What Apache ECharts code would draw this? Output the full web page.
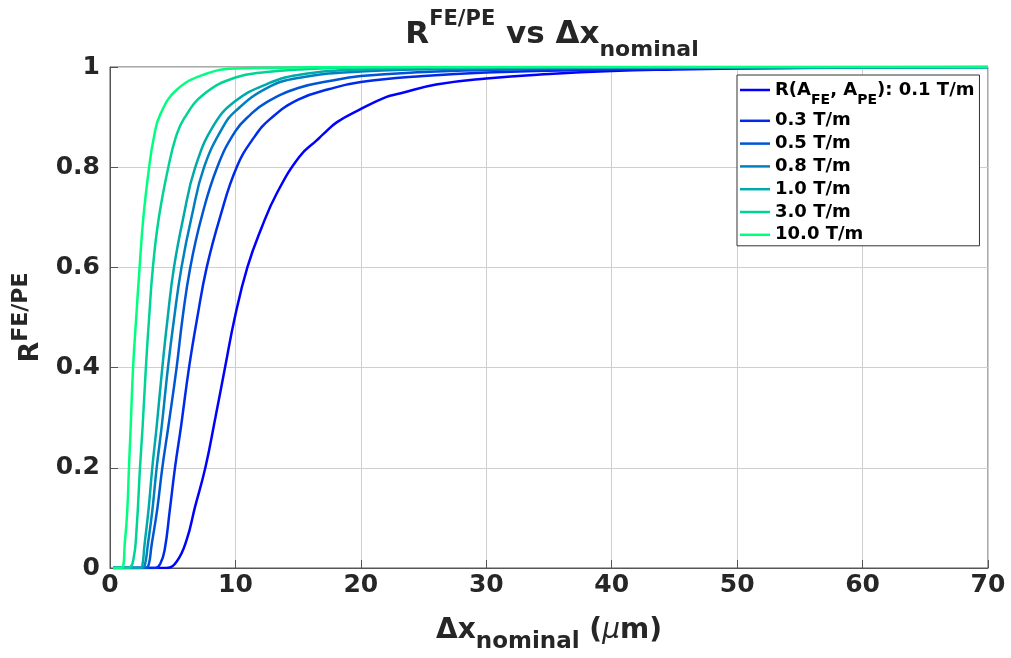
<!DOCTYPE html>
<html><head><meta charset="utf-8">
<script src="https://cdn.jsdelivr.net/npm/echarts@6/dist/echarts.min.js"></script>
<style>html,body{margin:0;padding:0;background:#fff}#c{width:1011px;height:658px}</style>
</head><body><div id="c"></div>
<script>
// ---- data ----
const seriesNames = ['R(A_FE, A_PE): 0.1 T/m', '0.3 T/m', '0.5 T/m', '0.8 T/m', '1.0 T/m', '3.0 T/m', '10.0 T/m'];
const seriesColors = ['#0000ff', '#002aea', '#0055d5', '#0080bf', '#00aaaa', '#00d495', '#00ff80'];
const xTicks = [0, 10, 20, 30, 40, 50, 60, 70];
const yTicks = [0, 0.2, 0.4, 0.6, 0.8, 1];

const x01 = [0.25, 4.5, 5.32, 6.11, 6.78, 7.6, 8.4, 9.17, 9.95, 10.95, 12.1, 13.3, 15.1, 16.5, 17.0, 18.1, 19.9, 22.0, 23.1, 26, 30, 35, 40, 45, 50, 60, 70];
const y01 = [0, 0, 0.013, 0.056, 0.122, 0.2, 0.3, 0.4, 0.5, 0.6, 0.68, 0.748, 0.821, 0.854, 0.866, 0.89, 0.915, 0.94, 0.947, 0.965, 0.977, 0.986, 0.992, 0.995, 0.997, 0.999, 1];

const x03 = [0.25, 3.6, 4.0, 4.35, 4.77, 5.18, 5.66, 6.3, 6.96, 7.71, 8.77, 10.1, 11.5, 12.8, 15, 17.5, 20, 25, 30, 40, 50, 60, 70];
const y03 = [0, 0, 0.008, 0.035, 0.116, 0.2, 0.282, 0.4, 0.5, 0.6, 0.7, 0.8, 0.86, 0.897, 0.935, 0.956, 0.97, 0.982, 0.989, 0.995, 0.998, 0.999, 1];

const x05 = [0.25, 2.85, 3.1, 3.3, 3.76, 4.17, 4.65, 5.31, 5.79, 6.4, 7.3, 8.55, 10, 11.2, 12.5, 15, 17.5, 20, 25, 30, 40, 50, 70];
const y05 = [0, 0, 0.008, 0.043, 0.116, 0.2, 0.282, 0.4, 0.5, 0.6, 0.7, 0.8, 0.872, 0.905, 0.93, 0.958, 0.972, 0.982, 0.99, 0.994, 0.998, 0.999, 1];

const x08 = [0.25, 2.6, 2.8, 3.0, 3.38, 3.72, 4.12, 4.62, 5.12, 5.7, 6.5, 7.5, 9.0, 10, 12.5, 15, 20, 30, 40, 50, 70];
const y08 = [0, 0, 0.008, 0.043, 0.116, 0.2, 0.282, 0.4, 0.5, 0.6, 0.7, 0.8, 0.88, 0.912, 0.958, 0.978, 0.991, 0.997, 0.999, 1, 1];

const x10 = [0.25, 2.45, 2.6, 2.74, 3.07, 3.37, 3.72, 4.17, 4.6, 5.1, 5.85, 6.8, 8.3, 10, 12.5, 15, 20, 30, 40, 70];
const y10 = [0, 0, 0.008, 0.043, 0.116, 0.2, 0.282, 0.4, 0.5, 0.6, 0.7, 0.8, 0.885, 0.932, 0.966, 0.984, 0.995, 0.999, 1, 1];

const x30 = [0.25, 1.45, 1.86, 2.13, 2.39, 2.6, 2.86, 3.12, 3.42, 3.9, 4.65, 5.25, 5.9, 7.5, 10, 12.5, 15, 20, 30, 70];
const y30 = [0, 0, 0.016, 0.082, 0.2, 0.282, 0.4, 0.5, 0.6, 0.7, 0.8, 0.86, 0.897, 0.946, 0.979, 0.99, 0.995, 0.999, 1, 1];

const x100 = [0.25, 0.9, 1.2, 1.38, 1.51, 1.65, 1.84, 2.09, 2.36, 2.66, 3.12, 3.5, 4.0, 5.3, 7.5, 10, 15, 20, 70];
const y100 = [0, 0, 0.056, 0.116, 0.2, 0.282, 0.4, 0.5, 0.6, 0.7, 0.8, 0.86, 0.905, 0.954, 0.985, 0.997, 0.999, 1, 1];

const seriesX = [x01, x03, x05, x08, x10, x30, x100];
const seriesY = [y01, y03, y05, y08, y10, y30, y100];

// ---- chart ----
const FF = 'DejaVu Sans';
const TXT = '#262626';
const chart = echarts.init(document.getElementById('c'), null, {renderer: 'canvas'});

const series = seriesNames.map((name, i) => ({
  name: name,
  type: 'line',
  data: seriesX[i].map((x, j) => [x, seriesY[i][j]]),
  symbol: 'none',
  showSymbol: false,
  smooth: 0.45,
  lineStyle: {color: seriesColors[i], width: 2.5},
  itemStyle: {color: seriesColors[i]},
  emphasis: {disabled: true},
  animation: false
}));

const option = {
  backgroundColor: '#ffffff',
  animation: false,
  title: {
    text: '{m|R}{p|FE/PE}{m| vs Δx}{s|nominal}',
    left: 548,
    top: 5,
    textAlign: 'center',
    padding: 4,
    textStyle: {
      rich: {
        m: {fontFamily: FF, fontSize: 31, fontWeight: 'bold', color: TXT, lineHeight: 52},
        p: {fontFamily: FF, fontSize: 21, fontWeight: 'bold', color: TXT, verticalAlign: 'top', lineHeight: 26},
        s: {fontFamily: FF, fontSize: 22, fontWeight: 'bold', color: TXT, verticalAlign: 'bottom', lineHeight: 16}
      }
    }
  },
  grid: {
    left: 110, right: 23, top: 67, bottom: 90,
    outerBoundsMode: 'none',
    containLabel: false,
    show: true, borderColor: '#555', borderWidth: 1, backgroundColor: 'transparent'
  },
  legend: {
    orient: 'vertical',
    left: 737,
    top: 75,
    padding: [6, 5, 2, 3],
    icon: 'rect',
    itemWidth: 30,
    itemHeight: 2.5,
    itemGap: 4.8,
    backgroundColor: '#ffffff',
    borderColor: '#333',
    borderWidth: 1,
    borderRadius: 0,
    data: seriesNames,
    formatter: function (name) {
      if (name.indexOf('R(') === 0) {
        return '{t|R(A}{b|FE}{t|, A}{b|PE}{t|): 0.1 T/m}';
      }
      return '{n|' + name + '}';
    },
    textStyle: {
      rich: {
        t: {fontFamily: FF, fontSize: 18, fontWeight: 'bold', color: '#000', verticalAlign: 'top', lineHeight: 18},
        b: {fontFamily: FF, fontSize: 14, fontWeight: 'bold', color: '#000', verticalAlign: 'top', lineHeight: 14, padding: [12, 0, 0, 0]},
        n: {fontFamily: FF, fontSize: 18, fontWeight: 'bold', color: '#000', lineHeight: 18.4}
      }
    }
  },
  xAxis: {
    type: 'value',
    min: 0, max: 70, interval: 10,
    name: '{m|Δx}{s|nominal}{m| (}{u|μ}{m|m)}',
    nameLocation: 'middle',
    nameGap: 40,
    nameTextStyle: {
      rich: {
        m: {fontFamily: FF, fontSize: 28, fontWeight: 'bold', color: TXT, lineHeight: 46},
        u: {fontFamily: FF, fontSize: 28, fontStyle: 'italic', fontWeight: 'normal', color: TXT, lineHeight: 46},
        s: {fontFamily: FF, fontSize: 23, fontWeight: 'bold', color: TXT, verticalAlign: 'bottom', lineHeight: 12}
      }
    },
    axisLine: {show: true, onZero: false, lineStyle: {color: '#555', width: 1}},
    axisTick: {show: true, inside: true, length: 8, lineStyle: {color: '#555'}},
    axisLabel: {
      fontFamily: FF, fontSize: 25, fontWeight: 'bold', color: TXT, margin: 5,
      formatter: v => xTicks.indexOf(v) >= 0 ? String(v) : ''
    },
    splitLine: {show: true, lineStyle: {color: '#cfcfcf', width: 1}}
  },
  yAxis: {
    type: 'value',
    min: 0, max: 1, interval: 0.2,
    name: '{m|R}{p|FE/PE}',
    nameLocation: 'middle',
    nameRotate: 90,
    nameGap: 56,
    nameTextStyle: {
      rich: {
        m: {fontFamily: FF, fontSize: 27, fontWeight: 'bold', color: TXT, lineHeight: 42},
        p: {fontFamily: FF, fontSize: 22, fontWeight: 'bold', color: TXT, verticalAlign: 'top', lineHeight: 14}
      }
    },
    axisLine: {show: true, onZero: false, lineStyle: {color: '#555', width: 1}},
    axisTick: {show: true, inside: true, length: 8, lineStyle: {color: '#555'}},
    axisLabel: {
      fontFamily: FF, fontSize: 25, fontWeight: 'bold', color: TXT, margin: 10,
      formatter: v => {
        const t = yTicks.find(k => Math.abs(k - v) < 1e-9);
        return t === undefined ? '' : String(t);
      }
    },
    splitLine: {show: true, lineStyle: {color: '#cfcfcf', width: 1}}
  },
  series: series
};
chart.setOption(option);
</script>
</body></html>
